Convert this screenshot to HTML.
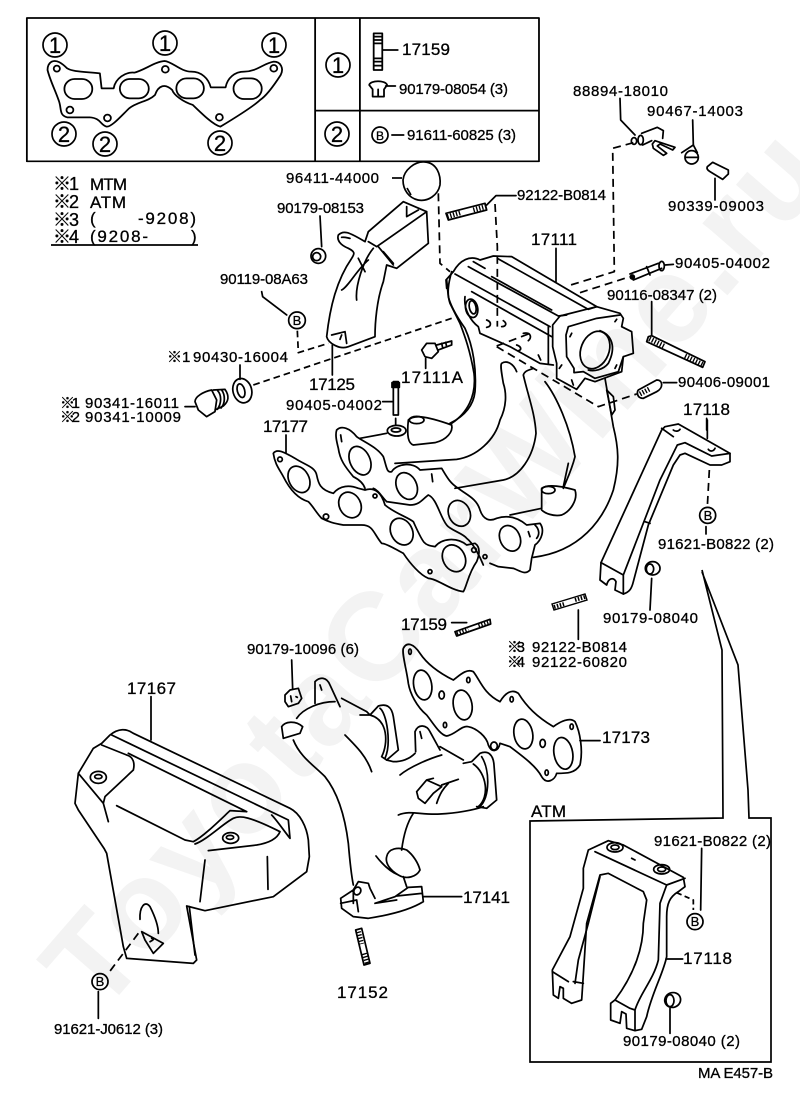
<!DOCTYPE html>
<html><head><meta charset="utf-8"><style>
html,body{margin:0;padding:0;background:#fff}
svg{display:block}
.g{fill:none;stroke:#000;stroke-width:5.2;stroke-linecap:round;stroke-linejoin:round}
.d{stroke-dasharray:24 15;stroke-linecap:butt}
.t{stroke-dasharray:4 5;stroke-width:15;stroke-linecap:butt}
text{font-family:"Liberation Sans","Noto Sans CJK JP",sans-serif;fill:#000;stroke:#000;stroke-width:.3}
.s{font-size:15px}.m{font-size:17px}.c{font-size:22px;text-anchor:middle}.b{font-size:13px;text-anchor:middle}
.k{font-size:18px}
</style></head><body>
<svg width="800" height="1110" viewBox="0 0 800 1110" xmlns="http://www.w3.org/2000/svg">
<text transform="rotate(-49 100 1017)" x="100" y="1017" font-size="125" font-weight="bold" textLength="1114" lengthAdjust="spacing" style="fill:#f3f3f3;stroke:none">ToyotaCarWine.ru</text>

<!-- top table -->
<g class="g" transform="scale(.3444,.3333)">
<path d="M78 54H1565V484H78Z M915 54V484 M1045 54V484 M915 332H1565"/>
<path d="M150 185C165 178 180 190 195 205C210 215 240 215 290 220L295 265L330 265C335 235 365 215 390 218C420 210 450 185 478 183C500 185 525 215 555 215C585 215 605 235 612 262L655 262C660 235 680 215 710 215C745 215 765 190 795 185C815 185 825 205 815 225C790 265 770 290 755 300C735 320 680 355 640 380C620 375 590 345 560 315C530 305 505 285 500 270C480 250 460 255 450 285C430 305 400 305 375 325C350 350 325 380 310 380C290 375 295 355 260 352L195 352C170 345 180 325 170 300C160 270 145 240 138 210C138 195 145 188 150 185Z"/>
<rect x="187" y="237" width="81" height="60" rx="30"/><rect x="348" y="237" width="84" height="58" rx="29"/><rect x="512" y="235" width="80" height="60" rx="30"/><rect x="678" y="235" width="82" height="62" rx="31"/>
<circle cx="165" cy="206" r="9"/><circle cx="480" cy="208" r="10"/><circle cx="795" cy="205" r="10"/><circle cx="203" cy="330" r="10"/><circle cx="312" cy="354" r="10"/><circle cx="637" cy="352" r="10"/>
<path d="M1085 100H1110V210H1085Z M1085 110H1110 M1085 120H1110 M1085 130H1110 M1085 175H1110 M1085 185H1110 M1085 197H1110 M1110 150H1155"/>
<path d="M1072 255C1075 240 1120 240 1124 255L1115 268V290H1082V268Z M1098 268V290 M1120 258H1148"/>
<path d="M1138 405H1172"/>
</g>
<g fill="none" stroke="#000" stroke-width="1.7">
<circle cx="55" cy="45" r="12"/><circle cx="165" cy="43" r="12"/><circle cx="274" cy="45" r="12"/>
<circle cx="64" cy="134" r="12"/><circle cx="105" cy="144" r="12"/><circle cx="220" cy="143" r="12"/>
<circle cx="338" cy="65" r="12"/><circle cx="337" cy="134" r="12"/>
<circle cx="380" cy="135" r="8"/>
</g>
<text class="c" x="55" y="53">1</text><text class="c" x="165" y="51">1</text><text class="c" x="274" y="53">1</text>
<text class="c" x="64" y="142">2</text><text class="c" x="105" y="152">2</text><text class="c" x="220" y="151">2</text>
<text class="c" x="338" y="73">1</text><text class="c" x="337" y="142">2</text>
<text class="b" x="380" y="140" style="font-size:12px">B</text>
<text class="m" x="402" y="55" textLength="48">17159</text>
<text class="s" x="399" y="94" textLength="109">90179-08054 (3)</text>
<text class="s" x="407" y="140" textLength="109">91611-60825 (3)</text>

<!-- legend -->
<text class="k" x="53" y="190" textLength="26">※1</text><text class="m" x="90" y="190" textLength="37">MTM</text>
<text class="k" x="53" y="208" textLength="26">※2</text><text class="m" x="90" y="208" textLength="36">ATM</text>
<text class="k" x="53" y="226" textLength="26">※3</text><text class="m" x="90" y="224">(</text><text class="m" x="138" y="224" textLength="58">-9208)</text>
<text class="k" x="53" y="243" textLength="26">※4</text><text class="m" x="90" y="242" textLength="58">(9208-</text><text class="m" x="191" y="242">)</text>
<path d="M51 245H198" stroke="#000" stroke-width="1.7"/>

<!-- cap -->
<path d="M392 178H402" stroke="#000" stroke-width="1.7"/>
<path d="M403 180C404 170 415 161 425 162C437 163 441 175 440 185C438 195 428 202 418 200C409 198 403 190 403 180ZM407 188L411 195" fill="none" stroke="#000" stroke-width="1.7"/>

<!-- zoom 2 area: throttle, fittings -->
<g class="g" transform="translate(420,70) scale(.33333)">
<path d="M600 85L602 150L645 195"/>
<ellipse cx="642" cy="213" rx="8" ry="10"/><ellipse cx="662" cy="210" rx="8" ry="14"/>
<path d="M665 190L712 172L730 182L728 205M668 225L695 212"/>
<path d="M697 222L705 212L765 232L758 240L720 222L712 228L740 250L730 256L700 235Z"/>
<path d="M818 150L820 225"/><circle cx="815" cy="262" r="20"/><path d="M785 248L820 225L832 248M798 262L832 262"/>
<path d="M862 290L878 277L925 300L925 312L908 328L870 305Q858 298 862 290ZM885 325V390"/>
<path class="d" d="M640 218L578 235L583 605L452 645M480 668L630 620M55 370L60 580L90 605M225 402L232 530V770M230 830L535 1010L650 972M230 828L330 790"/>
<!-- upper stud -->
<path d="M78 430L195 400L200 420L85 450Z M200 405L228 377H288"/>
<path class="t" d="M82 440L122 428M160 420L196 410"/>
<!-- stud 90405 -->
<path d="M630 612L715 580M640 630L725 595M680 590L690 615M735 585L760 583"/><ellipse cx="725" cy="588" rx="8" ry="14"/><circle cx="637" cy="621" r="6" fill="#000"/>
<!-- plenum -->
<path d="M408 535V635M100 605C120 570 150 555 180 570L220 558L275 560L530 710M232 565L505 718L530 710M105 612L390 770M145 590L415 738L440 735M160 575L195 595M215 620L395 720"/>
<path d="M398 765L420 738L530 710L600 730L610 745L605 770L635 785L640 850L610 860L605 905L525 935L495 925L470 958L410 925L410 880L398 830Z"/>
<path d="M438 795L445 770L530 745L600 735M438 795L440 860L462 895V908L490 905L525 925L595 905L610 860"/>
<ellipse cx="525" cy="840" rx="42" ry="58" transform="rotate(22 525 840)"/>
<path d="M540 782C575 795 590 830 565 880C550 900 520 905 505 900"/>
<path d="M585 755L590 748M455 790L450 800M590 885L585 895M455 930L460 945M425 885L418 895"/>
<path d="M80 630L85 680C95 720 125 760 135 775C160 830 170 900 165 965C160 1010 130 1040 90 1060M100 605L78 630L80 655"/>
<ellipse cx="155" cy="715" rx="18" ry="28" transform="rotate(-12 155 715)"/><ellipse cx="158" cy="712" rx="10" ry="20" transform="rotate(-12 158 712)"/>
<path d="M155 665L395 800M135 680C130 720 155 755 175 770L180 790L270 830L360 880L400 885M385 770V880"/>
<path d="M200 750C215 755 215 770 200 772M250 752C262 760 258 770 245 770M310 790C335 785 335 805 325 812M290 825C305 830 305 840 295 842M355 855L362 870"/>
<!-- 90116 stud -->
<path d="M695 695V795M685 800L695 797L855 875L848 892L680 815Z"/>
<path class="t" d="M688 806L735 830M795 858L848 884"/>
<!-- 90406 stud -->
<path d="M655 960L710 930C730 930 730 955 710 965L670 985C650 985 650 965 655 960ZM730 938H770"/>
<path class="t" d="M660 972L690 956"/>
<path d="M860 1045V1080"/>
</g>

<!-- zoom 3 area: manifold -->
<g class="g" transform="translate(250,250) scale(.33333)">
<path d="M70 610C80 595 100 605 135 625C165 645 195 650 200 675C205 700 210 720 250 730C270 705 300 705 325 715L345 720C375 710 395 730 405 765C435 790 470 800 490 815C520 880 520 885 555 890C575 865 620 860 650 885L675 880C690 890 690 910 680 935C655 970 650 1010 640 1025C600 1020 560 985 535 985C510 975 480 940 460 910C440 900 410 880 395 880C370 850 370 825 335 825L280 825C250 820 235 815 215 805C200 790 190 770 175 755C140 745 115 710 100 680C90 660 75 645 70 610Z"/>
<ellipse cx="147" cy="688" rx="30" ry="42" transform="rotate(-28 147 688)"/><ellipse cx="300" cy="765" rx="32" ry="40" transform="rotate(-28 300 765)"/><ellipse cx="455" cy="845" rx="32" ry="42" transform="rotate(-28 455 845)"/><ellipse cx="612" cy="925" rx="33" ry="42" transform="rotate(-28 612 925)"/>
<circle cx="90" cy="628" r="7"/><circle cx="228" cy="800" r="8"/><circle cx="375" cy="738" r="6"/><circle cx="540" cy="965" r="6"/><circle cx="672" cy="900" r="7"/><circle cx="705" cy="920" r="6"/>
<path d="M108 555V610"/>
<path d="M260 540C275 525 300 535 320 560C340 575 380 590 400 620C410 650 410 670 425 665C440 640 490 635 510 660L575 655C590 680 600 700 625 715C650 735 680 745 690 780C700 810 720 815 740 805C770 795 800 800 830 825L870 820C885 840 875 870 855 885L845 925L840 960C825 975 815 965 790 955L745 950L720 940M410 755C395 740 385 720 370 715M410 755L480 765C510 765 520 745 535 735C560 745 570 800 590 825C600 840 640 850 650 865C670 880 690 920 700 945M260 540C255 555 260 575 265 595C270 630 285 650 310 680C330 690 340 700 345 715"/>
<ellipse cx="330" cy="632" rx="30" ry="45" transform="rotate(-25 330 632)"/><ellipse cx="470" cy="708" rx="30" ry="42" transform="rotate(-25 470 708)"/><ellipse cx="628" cy="790" rx="32" ry="40" transform="rotate(-25 628 790)"/><ellipse cx="780" cy="865" rx="30" ry="40" transform="rotate(-25 780 865)"/>
<path d="M272 555L275 575M545 672L548 695M835 845L840 860M855 825C870 840 868 855 860 865"/>
<!-- runners -->
<path d="M330 565L410 550M435 640L620 628C680 620 735 570 750 510C770 470 770 430 760 400C755 370 750 345 755 340C770 330 790 340 800 365M615 715L760 690C810 680 850 620 858 550C855 490 835 440 820 375C825 360 840 360 850 355M885 395C920 440 960 530 975 620C965 660 950 690 940 715M955 640L940 710M780 795L875 775M1065 385L1090 530C1105 590 1110 640 1090 720C1060 810 990 905 850 922M605 520C650 490 680 440 672 370C660 300 645 260 630 220L600 160C590 130 595 100 605 65"/>
<path d="M475 510C490 495 520 495 605 525C610 545 590 570 555 578L490 585C475 580 470 560 475 510Z"/><ellipse cx="500" cy="510" rx="22" ry="11"/><ellipse cx="440" cy="542" rx="28" ry="16"/><ellipse cx="438" cy="540" rx="14" ry="6"/>
<path d="M875 715C895 700 940 710 975 720C985 750 960 785 935 795C910 800 885 790 875 780Z"/><ellipse cx="895" cy="720" rx="20" ry="11"/>
<path d="M1070 420L1090 440L1095 480L1085 495Z"/>
<!-- 17111A / stud -->
<path d="M430 395H445V495H430Z M398 455H430 M437 505V525"/>
<path d="M426 398H448V412H426Z" fill="#000"/>
</g>

<!-- zoom 8 area -->
<g class="g" transform="translate(40,180) scale(.33333)">
<path d="M840 108L845 200"/><circle cx="835" cy="228" r="22"/><circle cx="830" cy="230" r="12"/>
<path d="M860 470C870 380 890 300 935 235C945 220 945 215 925 205C900 195 890 180 895 165C910 150 925 155 975 185L985 155L1090 65L1160 95L1165 190L1070 265L1040 255L1030 305C1010 360 1005 430 1005 470L925 500C900 510 865 490 860 470Z"/>
<path d="M985 185L1010 200L1160 95M1000 205C970 240 945 320 950 360M1015 200L1060 255M955 235L975 275M985 240C950 270 925 320 905 330M875 465L915 455L920 490M905 465L900 478M1100 80V110L1135 90M905 172C915 170 925 175 930 175M1030 215L1060 250"/>
<circle cx="771" cy="421" r="25"/>
<path class="d" d="M772 452L775 518L865 490M640 615L1235 415" style="stroke-dasharray:20 12"/>
<path d="M665 335L668 350L740 405M600 555V598M877 495V585"/>
<ellipse cx="607" cy="632" rx="28" ry="37" transform="rotate(-15 607 632)"/><ellipse cx="603" cy="632" rx="11" ry="21" transform="rotate(-15 603 632)"/>
<path d="M465 665C465 650 490 635 515 630L530 660L525 695L500 710L475 690Z M435 680H465 M520 630L555 628C570 650 565 665 550 678L525 690"/>
<path d="M533 632C545 645 545 670 532 688M545 630C556 645 556 670 543 684"/>
<path d="M1145 510L1160 490H1185L1195 515L1175 535L1155 530Z M1157 535V565 M1190 495L1235 483V495L1195 510"/>
<path d="M1205 490L1208 503M1217 487L1220 500"/>
</g>

<!-- zoom 7: bracket 17118 -->
<g class="g" transform="translate(590,400) scale(.33333)">
<path d="M33 488L215 90L225 80L265 72L420 160V185L395 195H360L285 160L270 165L250 195L175 375L130 545C125 565 120 575 100 582L75 570L78 545C70 530 55 535 50 555L30 540Z"/>
<path d="M33 488L100 525V582M100 525L210 240L262 135L285 128L365 168L420 160M215 85L250 110M250 90C255 95 265 95 270 88M355 148C360 155 370 155 375 145M352 60V115M348 380V402M185 535L180 630M165 365L180 370"/>
<path class="d" d="M358 210L352 320"/>
<circle cx="353" cy="346" r="24"/>
<ellipse cx="188" cy="505" rx="22" ry="20"/><ellipse cx="180" cy="507" rx="11" ry="15"/>
</g>
<path d="M702 570L722 650L723 818L530 821V1062H771V818H749L748 790L738 665L702 572" fill="none" stroke="#000" stroke-width="1.7"/>

<!-- zoom 6: ATM bracket -->
<g class="g" transform="translate(520,790) scale(.33333)">
<path d="M205 180L190 235V295L150 440L97 540L100 615L115 625L120 590L130 595V625L155 640L185 630L188 585L200 400L240 255L265 250L370 305L380 330L370 400C370 470 345 550 285 630L272 640V690L300 700L305 665L318 672L320 715L345 722L365 718L380 680C395 610 430 550 440 500V380C440 340 450 320 475 305L495 290L490 262L310 165L265 152L205 180Z"/>
<path d="M225 185L440 285L495 265M440 285L420 340L415 510C400 570 360 610 345 660V720M285 630L330 655L345 660M97 545L145 575M160 575L190 580M240 260L205 400L175 510L165 580"/>
<ellipse cx="285" cy="172" rx="24" ry="14"/><ellipse cx="285" cy="172" rx="12" ry="7"/><ellipse cx="425" cy="238" rx="24" ry="14"/><ellipse cx="425" cy="238" rx="12" ry="7"/>
<path d="M545 175L542 360M438 507H488M450 655V730M335 205L345 210"/>
<path class="d" d="M470 308L520 330V360" style="stroke-dasharray:16 10"/>
<circle cx="525" cy="395" r="24"/>
<ellipse cx="458" cy="630" rx="24" ry="22" transform="rotate(-20 458 630)"/><ellipse cx="450" cy="632" rx="12" ry="18"/>
</g>

<!-- zoom 4: heat shield -->
<g class="g" transform="translate(30,640) scale(.33333)">
<path d="M363 170V300"/>
<path d="M135 490L145 400L190 325L215 310L240 285C265 265 290 265 310 280L780 505C810 520 830 560 835 600L838 650L830 695L730 770L525 812L470 798L500 960L490 970L290 955L280 920L230 640L222 625L145 510Z"/>
<path d="M245 285L775 540L780 595C760 570 740 540 725 525M215 315L290 345C310 350 315 370 310 390L225 470L220 490L145 400M295 340L650 515M220 490L235 545M260 497L465 600L490 605C520 590 570 540 600 512L650 515M495 612C530 600 580 550 610 535C630 525 660 530 750 575C740 600 710 610 680 615L535 632M525 660L510 785M712 650L714 748M478 800L495 945"/>
<ellipse cx="205" cy="412" rx="24" ry="18"/><ellipse cx="205" cy="410" rx="11" ry="6"/><ellipse cx="602" cy="594" rx="24" ry="16"/><ellipse cx="600" cy="592" rx="11" ry="6"/>
<path d="M330 838C328 800 345 780 360 800C375 830 385 860 385 880M335 875L400 910L370 940L345 900ZM360 905C370 900 375 895 365 895"/>
<path class="d" d="M325 880L235 1000"/>
<circle cx="210" cy="1025" r="24"/>
<path d="M205 1055V1135"/>
</g>

<!-- zoom 5: exhaust manifold, gasket -->
<g class="g" transform="translate(270,610) scale(.33333)">
<path d="M65 150L68 238M45 255L60 240L85 235L95 265L85 280L55 290L45 275Z M62 258L65 275 M78 260L82 262"/>
<path d="M35 350C45 335 75 330 98 350L90 370L40 385ZM80 325C100 295 150 275 195 275M135 280V215C150 200 170 200 180 225L210 290M215 265L290 305L300 315M270 315H300L325 288C350 280 365 290 370 320L385 420L350 450L335 440C355 400 355 330 300 315M330 295C350 310 365 400 345 445M225 375C260 410 290 440 305 485M150 225L155 240"/>
<path d="M350 450L370 455C400 455 420 445 435 430M437 425L435 365C445 340 470 345 480 365L510 420M510 410L580 450M580 460L605 455L630 430C655 420 670 435 672 465L680 570L650 595L620 590M635 440C660 480 660 560 630 590M610 462C650 490 660 560 625 590M390 495C420 470 480 445 515 435M450 365L455 385"/>
<path d="M385 615C420 600 450 615 510 612C560 610 610 600 640 590M440 545L470 510L515 530L490 550L465 580L445 565ZM515 525L565 508M500 580C510 550 520 535 535 520M490 505L470 510"/>
<path d="M430 610C410 640 400 680 395 720M70 390C90 440 130 465 165 500C205 550 225 620 235 700C240 760 245 800 250 825"/>
<path d="M350 740C355 715 385 710 410 720C430 735 445 760 450 780C440 800 410 810 385 795C360 780 345 760 350 740ZM318 738C335 760 360 785 385 795M400 800L410 830"/>
<path d="M212 865L250 840L265 815L295 820L300 835L315 865M212 865L215 895L250 920L295 925C360 915 420 900 460 875L455 830L415 832L375 860L315 880M380 858L455 850M212 880L260 870L265 905M250 840V880M315 880L380 870M460 860H575"/>
<ellipse cx="262" cy="843" rx="10" ry="12" transform="rotate(30 262 843)"/>
<path d="M400 115C410 95 430 100 450 130C470 160 500 185 550 210C570 195 590 175 610 185C630 210 640 250 690 275C705 250 725 235 745 250C770 290 800 320 850 350C870 335 900 320 915 335C930 365 940 420 930 465C915 490 890 490 860 490C855 510 830 525 815 500C800 470 760 440 720 410L690 400C685 425 665 430 655 405C650 380 620 355 595 350C575 345 555 375 530 378C510 375 490 340 470 315C440 290 420 250 415 220C410 180 395 130 400 115Z"/>
<ellipse cx="458" cy="225" rx="27" ry="45" transform="rotate(-10 458 225)"/><ellipse cx="578" cy="285" rx="28" ry="45" transform="rotate(-10 578 285)"/><ellipse cx="760" cy="372" rx="28" ry="45" transform="rotate(-10 760 372)"/><ellipse cx="880" cy="430" rx="28" ry="48" transform="rotate(-10 880 430)"/>
<ellipse cx="515" cy="255" rx="8" ry="12"/><ellipse cx="818" cy="400" rx="8" ry="12"/><ellipse cx="420" cy="125" rx="4" ry="8"/><ellipse cx="595" cy="210" rx="5" ry="8"/><ellipse cx="725" cy="268" rx="5" ry="8"/><ellipse cx="905" cy="350" rx="5" ry="8"/><ellipse cx="525" cy="345" rx="5" ry="8"/><ellipse cx="672" cy="408" rx="10" ry="12"/><ellipse cx="830" cy="488" rx="5" ry="8"/>
<path d="M930 392H990"/>
<path d="M555 65L660 28L662 42L560 78ZM545 38H590"/>
<path class="t" d="M560 70L595 58M625 46L658 35"/>
<path d="M925 0V88"/>
<path d="M257 960L275 955L300 1060L282 1065Z"/>
<path class="t" d="M265 965L275 1002M283 1030L292 1060"/>
</g>
<!-- stud 92122 lower -->
<path d="M552 604L585 594L587 600L554 610Z" fill="none" stroke="#000" stroke-width="1.4"/>
<path d="M554 607L564 604M575 600L585 597" fill="none" stroke="#000" stroke-width="4" stroke-dasharray="1.5 1.5"/>

<!-- B letters -->
<text class="b" x="100" y="986">B</text>
<text class="b" x="297" y="325">B</text>
<text class="b" x="708" y="520">B</text>
<text class="b" x="695" y="926">B</text>

<!-- labels -->
<text class="s" x="286" y="183" textLength="93">96411-44000</text>
<text class="s" x="277" y="213" textLength="87">90179-08153</text>
<text class="s" x="220" y="284" textLength="88">90119-08A63</text>
<text class="s" x="167" y="362">※1</text><text class="s" x="193" y="362" textLength="95">90430-16004</text>
<text class="s" x="60" y="408" textLength="20">※1</text><text class="s" x="85" y="408" textLength="94">90341-16011</text>
<text class="s" x="60" y="422" textLength="20">※2</text><text class="s" x="85" y="422" textLength="96">90341-10009</text>
<text class="m" x="309" y="390" textLength="46">17125</text>
<text class="s" x="286" y="410" textLength="96">90405-04002</text>
<text class="m" x="401" y="383" textLength="62">17111A</text>
<text class="m" x="263" y="432" textLength="45">17177</text>
<text class="s" x="573" y="96" textLength="95">88894-18010</text>
<text class="s" x="647" y="116" textLength="96">90467-14003</text>
<text class="s" x="668" y="211" textLength="96">90339-09003</text>
<text class="s" x="517" y="200" textLength="89">92122-B0814</text>
<text class="m" x="531" y="245" textLength="46">17111</text>
<text class="s" x="675" y="268" textLength="95">90405-04002</text>
<text class="s" x="607" y="300" textLength="110">90116-08347 (2)</text>
<text class="s" x="678" y="387" textLength="92">90406-09001</text>
<text class="m" x="683" y="415" textLength="47">17118</text>
<text class="s" x="658" y="549" textLength="116">91621-B0822 (2)</text>
<text class="s" x="603" y="623" textLength="95">90179-08040</text>
<text class="m" x="401" y="630" textLength="46">17159</text>
<text class="s" x="247" y="654" textLength="112">90179-10096 (6)</text>
<text class="s" x="507" y="652" textLength="18">※3</text><text class="s" x="532" y="652" textLength="95">92122-B0814</text>
<text class="s" x="507" y="667" textLength="18">※4</text><text class="s" x="532" y="667" textLength="95">92122-60820</text>
<text class="m" x="602" y="743" textLength="48">17173</text>
<text class="m" x="463" y="903" textLength="47">17141</text>
<text class="m" x="337" y="998" textLength="51">17152</text>
<text class="m" x="127" y="694" textLength="49">17167</text>
<text class="s" x="54" y="1034" textLength="109">91621-J0612 (3)</text>
<text class="m" x="531" y="817" textLength="35">ATM</text>
<text class="s" x="654" y="846" textLength="117">91621-B0822 (2)</text>
<text class="m" x="683" y="964" textLength="49">17118</text>
<text class="s" x="623" y="1046" textLength="117">90179-08040 (2)</text>
<text class="s" x="698" y="1078" textLength="75">MA E457-B</text>
</svg>
</body></html>
